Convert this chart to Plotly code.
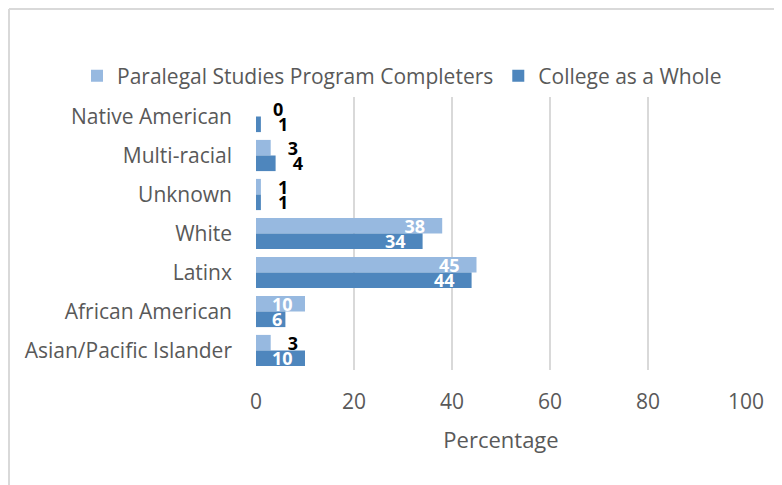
import plotly.graph_objects as go

categories = ["Native American", "Multi-racial", "Unknown", "White", "Latinx",
              "African American", "Asian/Pacific Islander"]
paralegal = [0, 3, 1, 38, 45, 10, 3]
college = [1, 4, 1, 34, 44, 6, 10]
series_names = ["Paralegal Studies Program Completers", "College as a Whole"]
x_ticks = [0, 20, 40, 60, 80, 100]

LIGHT = "#97b9e0"
DARK = "#4e86bd"
GRAY = "#595959"
FONT = "Open Sans"
NB = "\u00a0"


def label_props(vals):
    texts, pos, cols = [], [], []
    for v in vals:
        if v >= 6:
            pad = 3 if v >= 20 else (2 if v >= 8 else 0)
            texts.append(f"{v}" + NB * pad)
            pos.append("inside")
            cols.append("white")
        else:
            texts.append(NB * 3 + f"{v}")
            pos.append("outside")
            cols.append("black")
    return texts, pos, cols


fig = go.Figure()
for name, vals, col in [(series_names[0], paralegal, LIGHT), (series_names[1], college, DARK)]:
    t, p, c = label_props(vals)
    fig.add_trace(go.Bar(
        name=name, y=categories, x=vals, orientation="h",
        marker=dict(color=col, line=dict(width=0)),
        text=t, textposition=p, insidetextanchor="end", textangle=0,
        constraintext="none",
        textfont=dict(family=FONT, size=18, color=c, weight="bold"),
        cliponaxis=False,
    ))

# page offset of the figure inside the browser body
OFF = 8
W, H = 774, 477
L, T = 256 - OFF, 97 - OFF
R, B = W - (746 - OFF), H - (370 - OFF)
pw, ph = W - L - R, H - T - B


def px(page_x):
    return (page_x - OFF - L) / pw


def py(page_y):
    return (H - B - (page_y - OFF)) / ph


fig.update_layout(
    width=W, height=H,
    margin=dict(l=L, r=R, t=T, b=B, autoexpand=False),
    paper_bgcolor="white", plot_bgcolor="white",
    barmode="group", bargap=0.2, bargroupgap=0.0,
    uniformtext=dict(minsize=18, mode="show"),
    font=dict(family=FONT, size=21, color=GRAY),
    showlegend=True,
    legend=dict(orientation="h", x=px(77), xanchor="left", y=py(76), yanchor="middle",
                font=dict(family=FONT, size=21, color=GRAY), itemwidth=30,
                bgcolor="rgba(0,0,0,0)"),
    xaxis=dict(range=[0, 100], tickvals=x_ticks, showgrid=True, gridcolor="#d9d9d9",
               gridwidth=1.5, zeroline=False, showline=False,
               ticklabelstandoff=17,
               title=dict(text="Percentage", font=dict(family=FONT, size=22, color=GRAY), standoff=18),
               tickfont=dict(family=FONT, size=21, color=GRAY)),
    yaxis=dict(autorange="reversed", showgrid=False, zeroline=False, showline=False,
               ticklabelstandoff=23, tickfont=dict(family=FONT, size=21, color=GRAY)),
    shapes=[
        dict(type="line", xref="paper", yref="paper", x0=px(9), x1=px(9),
             y0=py(9), y1=py(520), line=dict(color="#d9d9d9", width=2)),
        dict(type="line", xref="paper", yref="paper", x0=px(9), x1=px(820),
             y0=py(9), y1=py(9), line=dict(color="#d9d9d9", width=2)),
    ],
)

fig.write_html("out.html")
